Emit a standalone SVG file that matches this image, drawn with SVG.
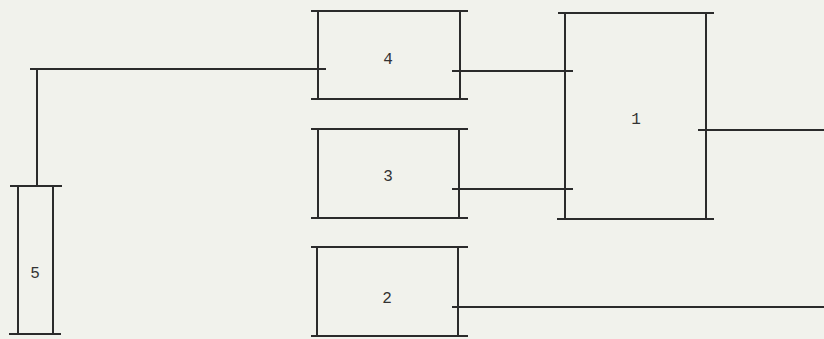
<svg xmlns="http://www.w3.org/2000/svg" width="824" height="339" viewBox="0 0 824 339">
<style>
.ln{stroke:#2b2b2b;stroke-width:2;fill:none;stroke-linecap:butt}
.lb{font-family:"Liberation Mono","DejaVu Sans Mono",monospace;font-size:16px;fill:#333;text-anchor:middle}
</style>
<rect width="824" height="339" fill="#f1f2ec"/>
<g id="node1">
<path class="ln" d="M558 13H714M557 219H714M565 13V219M706 13V219"/>
<text class="lb" x="636" y="124">1</text>
</g>
<g id="node2">
<path class="ln" d="M311 247H468M311 336H468M317 247V336M458 247V336"/>
<text class="lb" x="387" y="303">2</text>
</g>
<g id="node3">
<path class="ln" d="M311 129H468M311 218H468M318 129V218M459 129V218"/>
<text class="lb" x="388" y="181">3</text>
</g>
<g id="node4">
<path class="ln" d="M311 11H468M311 99H468M318 11V99M460 11V99"/>
<text class="lb" x="388" y="64">4</text>
</g>
<g id="node5">
<path class="ln" d="M10 186H62M9 334H61M18 186V334M53 186V334"/>
<text class="lb" x="35" y="278">5</text>
</g>
<g id="connectors">
<path class="ln" d="M37 186V69M30 69H326"/>
<path class="ln" d="M452 71H573"/>
<path class="ln" d="M452 189H573"/>
<path class="ln" d="M698 130H824"/>
<path class="ln" d="M452 307H824"/>
</g>
</svg>
